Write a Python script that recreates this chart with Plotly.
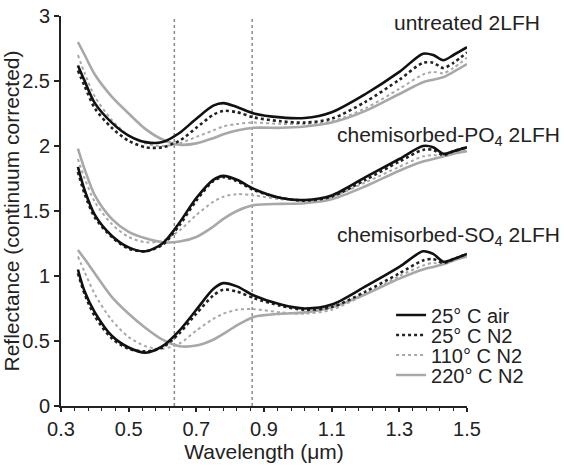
import plotly.graph_objects as go

# ---------------- data ----------------
wavelength = [0.35, 0.37, 0.40, 0.45, 0.50, 0.55, 0.60, 0.65, 0.70, 0.75, 0.78, 0.82,
              0.87, 0.95, 1.02, 1.10, 1.20, 1.30, 1.37, 1.40, 1.43, 1.46, 1.50]

series_names = ["25° C air", "25° C N2", "110° C N2", "220° C N2"]

untreated_air = [2.62, 2.50, 2.33, 2.18, 2.08, 2.03, 2.03, 2.10, 2.21, 2.31, 2.33, 2.30,
                 2.25, 2.22, 2.215, 2.26, 2.40, 2.57, 2.71, 2.70, 2.66, 2.70, 2.76]
untreated_n2_25 = [2.58, 2.46, 2.29, 2.14, 2.04, 1.99, 1.99, 2.04, 2.14, 2.24, 2.27, 2.26,
                   2.22, 2.19, 2.18, 2.21, 2.34, 2.51, 2.64, 2.64, 2.60, 2.64, 2.72]
untreated_n2_110 = [2.70, 2.56, 2.38, 2.20, 2.08, 2.02, 2.00, 2.02, 2.07, 2.12, 2.15, 2.17,
                    2.18, 2.17, 2.17, 2.19, 2.29, 2.44, 2.55, 2.57, 2.56, 2.60, 2.68]
untreated_n2_220 = [2.80, 2.70, 2.55, 2.38, 2.25, 2.13, 2.05, 2.01, 2.02, 2.06, 2.09, 2.12,
                    2.14, 2.14, 2.15, 2.18, 2.27, 2.40, 2.49, 2.51, 2.53, 2.57, 2.63]

po4_air = [1.84, 1.66, 1.47, 1.31, 1.22, 1.19, 1.25, 1.41, 1.60, 1.74, 1.77, 1.74,
           1.67, 1.60, 1.585, 1.62, 1.76, 1.90, 2.00, 1.99, 1.94, 1.96, 1.99]
po4_n2_25 = [1.80, 1.63, 1.45, 1.30, 1.21, 1.19, 1.24, 1.39, 1.58, 1.73, 1.76, 1.73,
             1.66, 1.60, 1.58, 1.61, 1.74, 1.88, 1.97, 1.97, 1.93, 1.96, 1.99]
po4_n2_110 = [1.90, 1.75, 1.57, 1.40, 1.30, 1.26, 1.27, 1.35, 1.47, 1.57, 1.61, 1.63,
              1.62, 1.59, 1.58, 1.61, 1.72, 1.84, 1.92, 1.93, 1.92, 1.94, 1.97]
po4_n2_220 = [1.98, 1.82, 1.62, 1.44, 1.34, 1.29, 1.26, 1.265, 1.30, 1.38, 1.44, 1.50,
              1.545, 1.555, 1.56, 1.59, 1.69, 1.81, 1.88, 1.90, 1.92, 1.94, 1.96]

so4_air = [1.05, 0.88, 0.72, 0.54, 0.45, 0.41, 0.46, 0.58, 0.74, 0.90, 0.945, 0.92,
           0.85, 0.78, 0.75, 0.78, 0.92, 1.07, 1.19, 1.17, 1.11, 1.13, 1.17]
so4_n2_25 = [1.02, 0.86, 0.69, 0.52, 0.44, 0.42, 0.45, 0.56, 0.71, 0.85, 0.895, 0.88,
             0.83, 0.77, 0.74, 0.76, 0.88, 1.02, 1.12, 1.13, 1.10, 1.13, 1.17]
so4_n2_110 = [1.15, 1.03, 0.86, 0.66, 0.53, 0.46, 0.44, 0.48, 0.58, 0.67, 0.71, 0.74,
              0.745, 0.72, 0.71, 0.74, 0.86, 1.00, 1.08, 1.10, 1.09, 1.12, 1.15]
so4_n2_220 = [1.20, 1.13, 1.02, 0.84, 0.71, 0.60, 0.51, 0.46, 0.465, 0.51, 0.555, 0.62,
              0.685, 0.71, 0.72, 0.76, 0.86, 0.98, 1.05, 1.07, 1.09, 1.12, 1.15]

group_labels = ["untreated 2LFH", "chemisorbed-PO<sub>4</sub> 2LFH", "chemisorbed-SO<sub>4</sub> 2LFH"]
group_label_y = [2.95, 2.08, 1.31]
reference_wavelengths = [0.635, 0.865]

groups = [
    [untreated_air, untreated_n2_25, untreated_n2_110, untreated_n2_220],
    [po4_air, po4_n2_25, po4_n2_110, po4_n2_220],
    [so4_air, so4_n2_25, so4_n2_110, so4_n2_220],
]

# ---------------- styles ----------------
FONT = "Arial, Liberation Sans, sans-serif"
styles = [
    dict(color="#111111", width=2.6, dash="solid"),
    dict(color="#222222", width=2.6, dash="dot"),
    dict(color="#a8a8a8", width=2.0, dash="dot"),
    dict(color="#a8a8a8", width=2.6, dash="solid"),
]
legend_ids = ["legend", "legend2", "legend3", "legend4"]
legend_y = [0.2333, 0.182, 0.1308, 0.0795]

fig = go.Figure()

# draw grey first so black lies on top
order = [3, 2, 1, 0]
for gi, grp in enumerate(groups):
    for si in order:
        fig.add_trace(go.Scatter(
            x=wavelength, y=grp[si], mode="lines",
            line=dict(shape="spline", smoothing=0.8, **styles[si]),
            name=series_names[si], showlegend=False,
        ))

# one legend box per entry, to match the tight spacing
for si in range(4):
    fig.add_trace(go.Scatter(
        x=[None], y=[None], mode="lines", line=styles[si],
        name=series_names[si], showlegend=True, legend=legend_ids[si],
    ))

for xv in reference_wavelengths:
    fig.add_shape(type="line", xref="x", yref="y", x0=xv, x1=xv, y0=0, y1=3,
                  line=dict(color="#8a8a8a", width=1.5, dash="3px,3px"), layer="below")

label_x = [1.185, 1.234, 1.234]
for lab, xv, yv in zip(group_labels, label_x, group_label_y):
    fig.add_annotation(text=lab, xref="paper", yref="y", x=xv, y=yv,
                       xanchor="right", yanchor="middle", showarrow=False,
                       font=dict(family=FONT, size=21, color="#222222"))

legend_common = dict(x=0.813, xanchor="left", yanchor="middle",
                     bgcolor="rgba(0,0,0,0)", itemwidth=30,
                     font=dict(family=FONT, size=20, color="#222222"))

fig.update_layout(
    width=564, height=467,
    margin=dict(l=61, r=97, t=16, b=61, autoexpand=False),
    paper_bgcolor="white", plot_bgcolor="white",
    font=dict(family=FONT, size=20, color="#222222"),
    showlegend=True,
    legend=dict(y=legend_y[0], **legend_common),
    legend2=dict(y=legend_y[1], **legend_common),
    legend3=dict(y=legend_y[2], **legend_common),
    legend4=dict(y=legend_y[3], **legend_common),
)

fig.update_xaxes(
    range=[0.3, 1.5], tickvals=[0.3, 0.5, 0.7, 0.9, 1.1, 1.3, 1.5],
    ticktext=["0.3", "0.5", "0.7", "0.9", "1.1", "1.3", "1.5"],
    showline=True, linecolor="#222222", linewidth=2,
    ticks="outside", ticklen=4, tickwidth=1.5, tickcolor="#222222",
    minor=dict(dtick=0.04, tick0=0.3, ticks="outside", ticklen=3, tickwidth=1, tickcolor="#222222"),
    showgrid=False, zeroline=False, automargin=False,
    tickfont=dict(family=FONT, size=20),
    title=dict(text="Wavelength (μm)", font=dict(family=FONT, size=21), standoff=5),
)
fig.update_yaxes(
    range=[0, 3], tickvals=[0, 0.5, 1, 1.5, 2, 2.5, 3],
    ticktext=["0", "0.5", "1", "1.5", "2", "2.5", "3"],
    showline=True, linecolor="#222222", linewidth=2,
    ticks="outside", ticklen=5, tickwidth=1.5, tickcolor="#222222",
    showgrid=False, zeroline=False, automargin=False,
    tickfont=dict(family=FONT, size=20),
    title=dict(text="Reflectance (continuum corrected)", font=dict(family=FONT, size=21), standoff=3),
)

# remove the browser's default 8px body margin so the figure fills the window exactly
fig.write_html("out.html", config={"displayModeBar": False},
               post_script="document.body.style.margin='0';")
